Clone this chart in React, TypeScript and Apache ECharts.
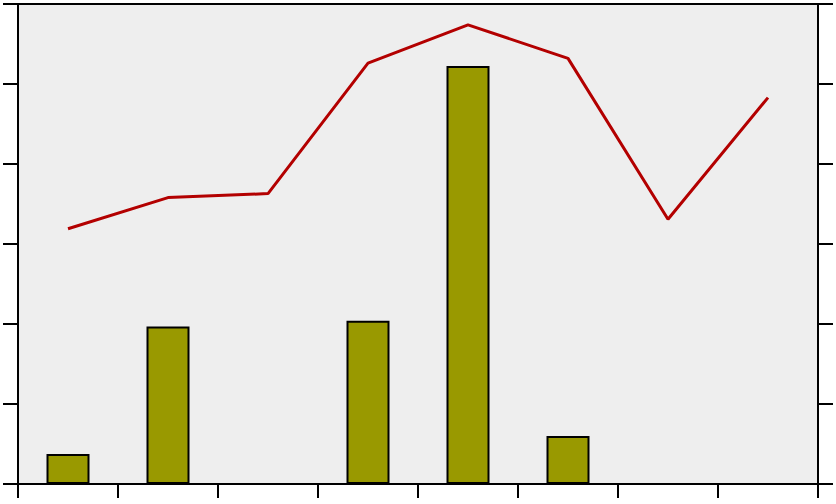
import React, { useEffect, useRef } from "react";
import * as echarts from "echarts";

const categories = ["1", "2", "3", "4", "5", "6", "7", "8"];
const barValues: (number | string)[] = [3.75, 19.7, "-", 20.4, 52.25, 6.0, "-", "-"];
const lineValues = [31.9, 35.8, 36.3, 52.6, 57.4, 53.2, 33.1, 48.3];
const yMin = 0;
const yMax = 60;
const yInterval = 10;

export default function App() {
  const ref = useRef<HTMLDivElement>(null);
  useEffect(() => {
    if (!ref.current) return;
    const chart = echarts.init(ref.current, undefined, { renderer: "svg" });
    const yAxisCommon = {
      type: "value",
      min: yMin,
      max: yMax,
      interval: yInterval,
      axisLine: { show: true, lineStyle: { color: "#000", width: 2 } },
      axisTick: { show: true, inside: false, length: 15, lineStyle: { color: "#000", width: 2 } },
      axisLabel: { show: false },
      splitLine: { show: false },
    };
    chart.setOption({
      animation: false,
      grid: {
        left: 18,
        right: 18,
        top: 4,
        bottom: 20,
        show: true,
        backgroundColor: "#eeeeee",
        borderColor: "#000",
        borderWidth: 2,
      },
      xAxis: {
        type: "category",
        data: categories,
        boundaryGap: true,
        axisLine: { show: true, lineStyle: { color: "#000", width: 2 } },
        axisTick: { show: true, inside: false, length: 14, lineStyle: { color: "#000", width: 2 } },
        axisLabel: { show: false },
        splitLine: { show: false },
      },
      yAxis: [
        { ...yAxisCommon, position: "left" },
        { ...yAxisCommon, position: "right" },
      ],
      series: [
        {
          type: "bar",
          data: barValues,
          barWidth: 43,
          itemStyle: { color: "#999900", borderColor: "#000", borderWidth: 2 },
        },
        {
          type: "line",
          data: lineValues,
          symbol: "none",
          lineStyle: { color: "#b30000", width: 3 },
        },
      ],
    });
    return () => chart.dispose();
  }, []);
  return (
    <div
      ref={ref}
      style={{ position: "fixed", left: 0, top: 0, width: 836, height: 504 }}
    />
  );
}
